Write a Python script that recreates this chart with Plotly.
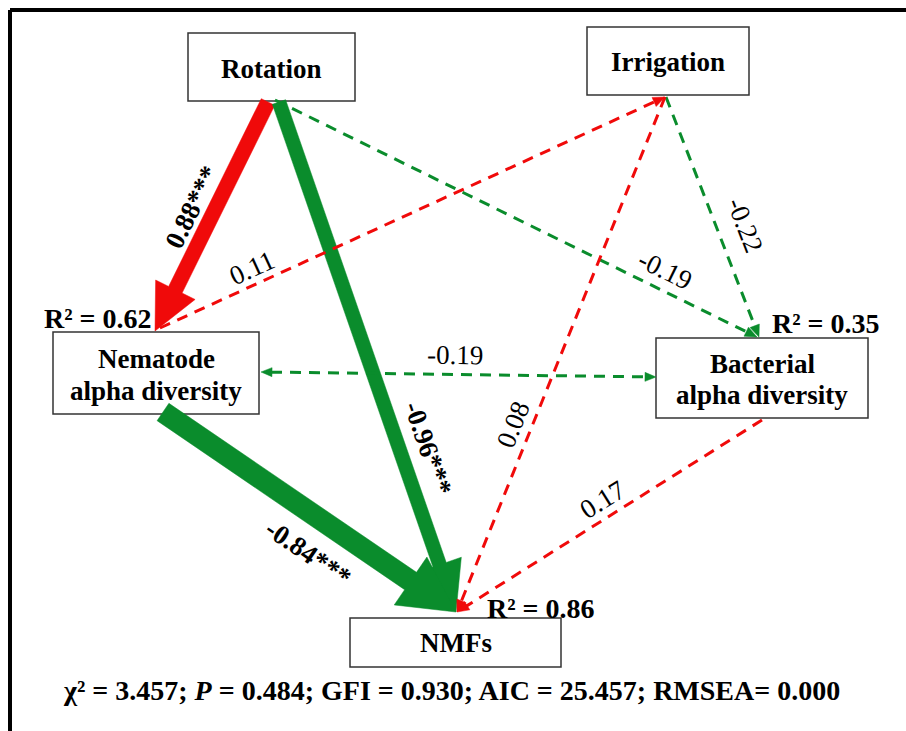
import math
import plotly.graph_objects as go

# ---------------- data ----------------
node_names = ["Rotation", "Irrigation", "Nematode alpha diversity",
              "Bacterial alpha diversity", "NMFs"]
r2_nodes = ["Nematode alpha diversity", "Bacterial alpha diversity", "NMFs"]
r2_values = [0.62, 0.35, 0.86]

edge_from = ["Rotation", "Rotation", "Nematode alpha diversity", "Nematode alpha diversity",
             "Rotation", "Irrigation", "Nematode alpha diversity", "Irrigation",
             "Bacterial alpha diversity"]
edge_to = ["Nematode alpha diversity", "NMFs", "NMFs", "Irrigation",
           "Bacterial alpha diversity", "Bacterial alpha diversity",
           "Bacterial alpha diversity", "NMFs", "NMFs"]
edge_coef = [0.88, -0.96, -0.84, 0.11, -0.19, -0.22, -0.19, 0.08, 0.17]
edge_sig = ["***", "***", "***", "", "", "", "", "", ""]

fit_names = ["χ²", "<i>P</i>", "GFI", "AIC", "RMSEA"]
fit_values = ["3.457", "0.484", "0.930", "25.457", "0.000"]

# ---------------- layout (pixel positions) ----------------
W, H = 906, 731
FONT = "Times New Roman, Liberation Serif, DejaVu Serif, serif"
RED = "#F00A0A"
GREEN = "#0A8C2C"

box_rect = {
    "Rotation": (188, 33, 355, 101),
    "Irrigation": (587, 27, 749, 95),
    "Nematode alpha diversity": (53, 332, 259, 414),
    "Bacterial alpha diversity": (656, 338, 868, 418),
    "NMFs": (350, 618, 561, 667),
}
box_lines = {
    "Rotation": [("Rotation", 69)],
    "Irrigation": [("Irrigation", 62)],
    "Nematode alpha diversity": [("Nematode", 359), ("alpha diversity", 391)],
    "Bacterial alpha diversity": [("Bacterial", 364), ("alpha diversity", 395)],
    "NMFs": [("NMFs", 643)],
}
r2_pos = {
    "Nematode alpha diversity": (98, 318),
    "Bacterial alpha diversity": (826, 323),
    "NMFs": (541, 608),
}
# start point, end point, heads at (start, end), solid width, head length, head width
edge_geom = [
    ((268, 102), (155, 331), (False, True), 15, 46, 44),
    ((279, 102), (456, 612), (False, True), 14, 50, 46),
    ((163, 412), (456, 612), (False, True), 21, 55, 58),
    ((160, 328), (665, 97), (False, True), 0, 12, 10),
    ((275, 100), (757, 337), (False, True), 0, 12, 10),
    ((666, 97), (759, 337), (False, True), 0, 12, 10),
    ((261, 372), (656, 377), (True, True), 0, 11, 9),
    ((665, 97), (457, 612), (False, True), 0, 12, 10),
    ((762, 420), (457, 612), (False, True), 0, 12, 10),
]
label_pos = [
    (192, 207), (428, 448), (308, 553), (252, 268), (665, 270),
    (745, 225), (455, 355), (513, 425), (602, 500),
]

fig = go.Figure()


def unit(a, b):
    dx, dy = b[0] - a[0], b[1] - a[1]
    d = math.hypot(dx, dy)
    return dx / d, dy / d


def head_poly(tip, u, L, Hw):
    nx, ny = -u[1], u[0]
    bx, by = tip[0] - L * u[0], tip[1] - L * u[1]
    return ([bx + nx * Hw / 2, tip[0], bx - nx * Hw / 2, bx + nx * Hw / 2],
            [by + ny * Hw / 2, tip[1], by - ny * Hw / 2, by + ny * Hw / 2])


for i, (geo, coef, sig) in enumerate(zip(edge_geom, edge_coef, edge_sig)):
    S, T, heads, w, L, Hw = geo
    color = RED if coef > 0 else GREEN
    u = unit(S, T)
    nx, ny = -u[1], u[0]
    if sig:
        B = (T[0] - L * u[0], T[1] - L * u[1])
        xs = [S[0] + nx * w / 2, B[0] + nx * w / 2, B[0] + nx * Hw / 2, T[0],
              B[0] - nx * Hw / 2, B[0] - nx * w / 2, S[0] - nx * w / 2, S[0] + nx * w / 2]
        ys = [S[1] + ny * w / 2, B[1] + ny * w / 2, B[1] + ny * Hw / 2, T[1],
              B[1] - ny * Hw / 2, B[1] - ny * w / 2, S[1] - ny * w / 2, S[1] + ny * w / 2]
        fig.add_trace(go.Scatter(x=xs, y=ys, mode="lines", fill="toself",
                                 fillcolor=color, line=dict(color=color, width=0.5),
                                 hoverinfo="skip", showlegend=False))
    else:
        p0 = S if not heads[0] else (S[0] + (L - 1) * u[0], S[1] + (L - 1) * u[1])
        p1 = T if not heads[1] else (T[0] - (L - 1) * u[0], T[1] - (L - 1) * u[1])
        fig.add_trace(go.Scatter(x=[p0[0], p1[0]], y=[p0[1], p1[1]], mode="lines",
                                 line=dict(color=color, width=3, dash="11px,8px"),
                                 hoverinfo="skip", showlegend=False))
        if heads[1]:
            hx, hy = head_poly(T, u, L, Hw)
            fig.add_trace(go.Scatter(x=hx, y=hy, mode="lines", fill="toself",
                                     fillcolor=color, line=dict(color=color, width=0.5),
                                     hoverinfo="skip", showlegend=False))
        if heads[0]:
            hx, hy = head_poly(S, (-u[0], -u[1]), L, Hw)
            fig.add_trace(go.Scatter(x=hx, y=hy, mode="lines", fill="toself",
                                     fillcolor=color, line=dict(color=color, width=0.5),
                                     hoverinfo="skip", showlegend=False))

    # label
    ang = math.degrees(math.atan2(u[1], u[0]))
    if ang > 90:
        ang -= 180
    elif ang < -90:
        ang += 180
    txt = f"{coef:.2f}{sig}"
    if sig:
        txt = f"<b>{txt}</b>"
    lx, ly = label_pos[i]
    fig.add_annotation(x=lx, y=ly, text=txt, showarrow=False, textangle=ang,
                       xanchor="center", yanchor="middle",
                       font=dict(family=FONT, size=27, color="black"))

shapes = []
# outer frame (cropped on the right and bottom)
shapes.append(dict(type="line", x0=10, y0=10, x1=W + 20, y1=10,
                   line=dict(color="black", width=4), layer="below"))
shapes.append(dict(type="line", x0=10, y0=10, x1=10, y1=H + 20,
                   line=dict(color="black", width=4), layer="below"))

for name in node_names:
    x0, y0, x1, y1 = box_rect[name]
    shapes.append(dict(type="rect", x0=x0, y0=y0, x1=x1, y1=y1,
                       line=dict(color="#333333", width=1.5), fillcolor="white",
                       layer="below"))
    cx = (x0 + x1) / 2
    for line_txt, cy in box_lines[name]:
        fig.add_annotation(x=cx, y=cy, text=f"<b>{line_txt}</b>", showarrow=False,
                           xanchor="center", yanchor="middle",
                           font=dict(family=FONT, size=27, color="black"))

for name, val in zip(r2_nodes, r2_values):
    px, py = r2_pos[name]
    fig.add_annotation(x=px, y=py, text=f"<b>R² = {val:.2f}</b>",
                       showarrow=False, xanchor="center", yanchor="middle",
                       font=dict(family=FONT, size=28, color="black"))

seps = [" = ", " = ", " = ", " = ", "= "]
summary = "; ".join(f"{n}{s}{v}" for n, s, v in zip(fit_names, seps, fit_values))
fig.add_annotation(x=451, y=690, text=f"<b>{summary}</b>", showarrow=False,
                   xanchor="center", yanchor="middle",
                   font=dict(family=FONT, size=28, color="black"))

fig.update_layout(
    width=W, height=H, margin=dict(l=0, r=0, t=0, b=0),
    paper_bgcolor="white", plot_bgcolor="white", shapes=shapes,
    font=dict(family=FONT),
    xaxis=dict(range=[0, W], visible=False, fixedrange=True),
    yaxis=dict(range=[H, 0], visible=False, fixedrange=True),
    showlegend=False,
)
fig.write_html("out.html")
